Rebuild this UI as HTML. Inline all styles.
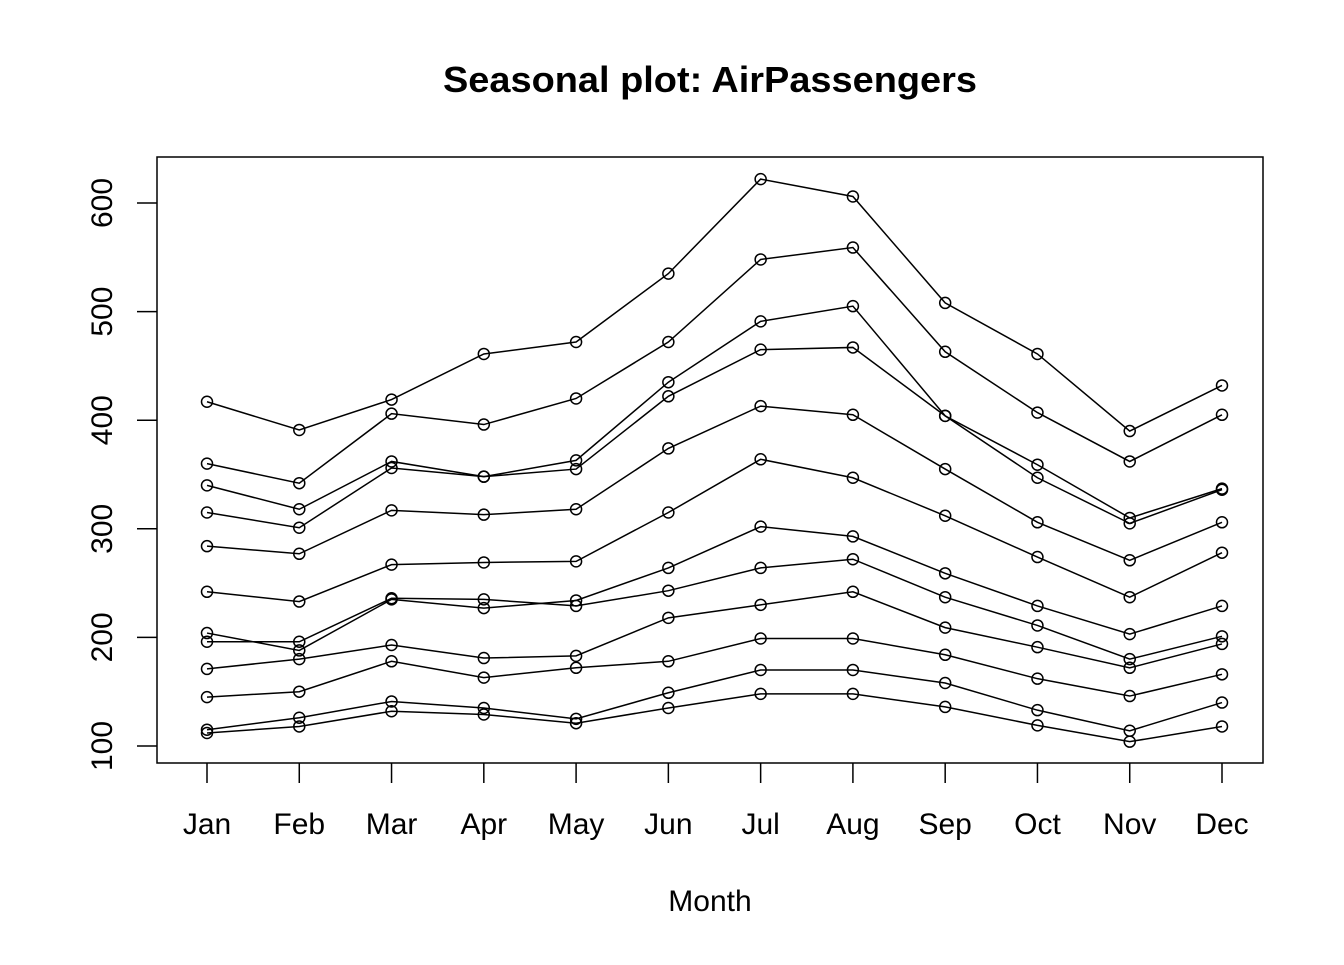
<!DOCTYPE html>
<html><head><meta charset="utf-8"><style>
body{margin:0;background:#fff}
svg text{font-family:"Liberation Sans",Arial,sans-serif;fill:#000}
</style></head><body>
<svg id="chart" width="1344" height="960" xmlns="http://www.w3.org/2000/svg">
<rect width="1344" height="960" fill="#fff"/>
<text x="710" y="92" font-size="36" font-weight="bold" text-anchor="middle" textLength="534" lengthAdjust="spacingAndGlyphs">Seasonal plot: AirPassengers</text>
<rect x="157" y="157" width="1106" height="606" fill="none" stroke="#000" stroke-width="1.5"/>
<text x="710" y="911" font-size="30" text-anchor="middle">Month</text>
<g id="axes"></g>
<g id="series"></g>
</svg>
<script>
const months=["Jan","Feb","Mar","Apr","May","Jun","Jul","Aug","Sep","Oct","Nov","Dec"];
const yTicks=[100,200,300,400,500,600];
const y1949=[112,118,132,129,121,135,148,148,136,119,104,118];
const y1950=[115,126,141,135,125,149,170,170,158,133,114,140];
const y1951=[145,150,178,163,172,178,199,199,184,162,146,166];
const y1952=[171,180,193,181,183,218,230,242,209,191,172,194];
const y1953=[196,196,236,235,229,243,264,272,237,211,180,201];
const y1954=[204,188,235,227,234,264,302,293,259,229,203,229];
const y1955=[242,233,267,269,270,315,364,347,312,274,237,278];
const y1956=[284,277,317,313,318,374,413,405,355,306,271,306];
const y1957=[315,301,356,348,355,422,465,467,404,347,305,336];
const y1958=[340,318,362,348,363,435,491,505,404,359,310,337];
const y1959=[360,342,406,396,420,472,548,559,463,407,362,405];
const y1960=[417,391,419,461,472,535,622,606,508,461,390,432];
const years=[y1949,y1950,y1951,y1952,y1953,y1954,y1955,y1956,y1957,y1958,y1959,y1960];
const NS="http://www.w3.org/2000/svg";
const xS=i=>207+i*(1222-207)/(months.length-1);
const yS=v=>746-(v-100)*(746-203)/500;
function mk(t,a,p){const e=document.createElementNS(NS,t);for(const k in a)e.setAttribute(k,a[k]);p.appendChild(e);return e;}
const ax=document.getElementById('axes');
months.forEach((m,i)=>{
 const t=mk('line',{x1:xS(i),x2:xS(i),y1:763,y2:783,stroke:'#000','stroke-width':1.5},ax);
 
 
 const l=mk('text',{x:xS(i),y:834,'font-size':30,'text-anchor':'middle'},ax);
 l.textContent=m;
 
 
});
yTicks.forEach(v=>{
 const t=mk('line',{x1:137,x2:157,y1:yS(v),y2:yS(v),stroke:'#000','stroke-width':1.5},ax);
 
 
 const l=mk('text',{x:0,y:0,'font-size':30,'text-anchor':'middle',transform:`translate(112,${yS(v)}) rotate(-90)`},ax);
 l.textContent=v;
 
 
});
const sg=document.getElementById('series');
years.forEach((ys,k)=>{
 const g=mk('g',{},sg);
 
 
 const pl=mk('polyline',{points:ys.map((v,i)=>xS(i)+','+yS(v)).join(' '),fill:'none',stroke:'#000','stroke-width':1.5},g);
 
 
 ys.forEach((v,i)=>{
  const c=mk('circle',{cx:xS(i),cy:yS(v),r:5.5,fill:'none',stroke:'#000','stroke-width':1.5},g);
  
  
 });
});
</script>
</body></html>
